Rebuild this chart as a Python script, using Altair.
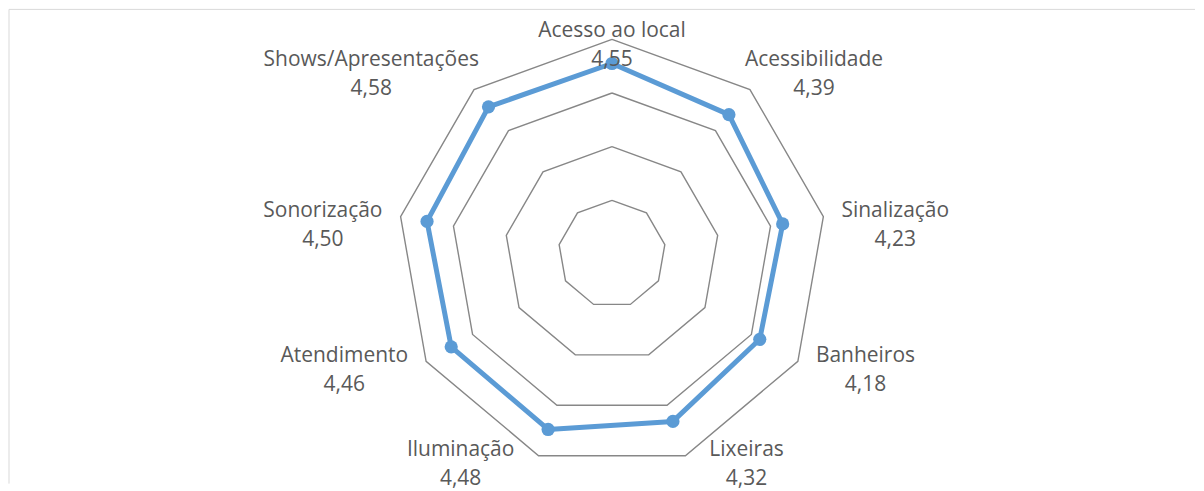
import math
import altair as alt
import pandas as pd

# ---- data ----
categories = ["Acesso ao local", "Acessibilidade", "Sinalização", "Banheiros",
              "Lixeiras", "Iluminação", "Atendimento", "Sonorização",
              "Shows/Apresentações"]
values = [4.55, 4.39, 4.23, 4.18, 4.32, 4.48, 4.46, 4.50, 4.58]
axis_min = 1
axis_max = 5
ring_levels = [2, 3, 4, 5]

# ---- layout ----
W, H = 1188, 475
PX = 53.75            # pixels per value unit
CX, CY = 604, 245     # centre of the radar inside the plot area
FONT = "Open Sans"
FS = 21
LH = 29
x_dom = [-CX / PX, (W - CX) / PX]
y_dom = [-(H - CY) / PX, CY / PX]
n = len(categories)
angles = [2 * math.pi * i / n for i in range(n)]

# approximate Open Sans advance widths (em) for label placement
CW = {" ": 0.26, "A": 0.633, "B": 0.648, "I": 0.292, "L": 0.521, "S": 0.547,
      "a": 0.556, "b": 0.613, "c": 0.476, "d": 0.613, "e": 0.561, "h": 0.614,
      "i": 0.253, "l": 0.253, "m": 0.93, "n": 0.614, "o": 0.604, "p": 0.613,
      "r": 0.408, "s": 0.477, "t": 0.353, "u": 0.614, "w": 0.786, "x": 0.52,
      "z": 0.477, "/": 0.361, "ç": 0.476, "ã": 0.556, "õ": 0.604}


def text_w(s):
    return sum(CW.get(ch, 0.56) for ch in s) * FS


def xy(v, a):
    r = v - axis_min
    return r * math.sin(a), r * math.cos(a)


# series polygon (closed)
ser_rows = []
for k in range(n + 1):
    i = k % n
    x, y = xy(values[i], angles[i])
    ser_rows.append({"x": x, "y": y, "o": k, "cat": categories[i], "v": values[i]})
ser = pd.DataFrame(ser_rows)
pts = ser.iloc[:n]

# grid rings
grid_rows = []
for lev in ring_levels:
    for k in range(n + 1):
        i = k % n
        x, y = xy(lev, angles[i])
        grid_rows.append({"x": x, "y": y, "o": k, "lev": lev})
grid = pd.DataFrame(grid_rows)

# labels (block centre computed, then first line is drawn half a line above)
lab_rows = []
for i in range(n):
    a = angles[i]
    s, c = math.sin(a), math.cos(a)
    vx, vy = xy(axis_max, a)
    w = text_w(categories[i])
    if abs(s) < 0.1:
        bx = vx
        by = vy - 6 / PX
    else:
        sign = 1 if s > 0 else -1
        if c > 0.5:
            pad = -5
            by = vy + 15 / PX
        elif c < -0.8:
            pad = 24
            by = vy - 9 / PX
        else:
            pad = 18
            by = vy - 9 / PX
        bx = vx + sign * (pad + w / 2) / PX
    lab_rows.append({"x": bx, "y": by,
                     "t": categories[i] + "\n" + f"{values[i]:.2f}".replace(".", ",")})
labs = pd.DataFrame(lab_rows)

xs = alt.Scale(domain=x_dom, nice=False, zero=False)
ys = alt.Scale(domain=y_dom, nice=False, zero=False)
X = alt.X("x:Q", scale=xs, axis=None)
Y = alt.Y("y:Q", scale=ys, axis=None)

grid_layer = alt.Chart(grid).mark_line(color="#878787", strokeWidth=1.4).encode(
    x=X, y=Y, order="o:Q", detail="lev:N")

line_layer = alt.Chart(ser).mark_line(color="#5b9bd5", strokeWidth=5,
                                      strokeJoin="round").encode(
    x=X, y=Y, order="o:Q")

pt_layer = alt.Chart(pts).mark_circle(color="#5b9bd5", opacity=1, size=175).encode(
    x=X, y=Y)

lab_layer = alt.Chart(labs).mark_text(font=FONT, fontSize=FS, color="#595959",
                                      lineBreak="\n", lineHeight=LH, dy=-LH / 2,
                                      align="center", baseline="middle").encode(
    x=X, y=Y, text="t:N")

frame = alt.Data(values=[{"a": 1}])
left_rule = alt.Chart(frame).mark_rule(color="#d9d9d9", strokeWidth=1).encode(
    x=alt.value(0), y=alt.value(0), y2=alt.value(H))
top_rule = alt.Chart(frame).mark_rule(color="#d9d9d9", strokeWidth=1).encode(
    x=alt.value(0), x2=alt.value(W), y=alt.value(0))

chart = alt.layer(left_rule, top_rule, grid_layer, line_layer, pt_layer, lab_layer).properties(
    width=W, height=H, padding=0
).configure_view(stroke=None)

chart.save("out.html", embed_options={"renderer": "svg", "actions": False})
